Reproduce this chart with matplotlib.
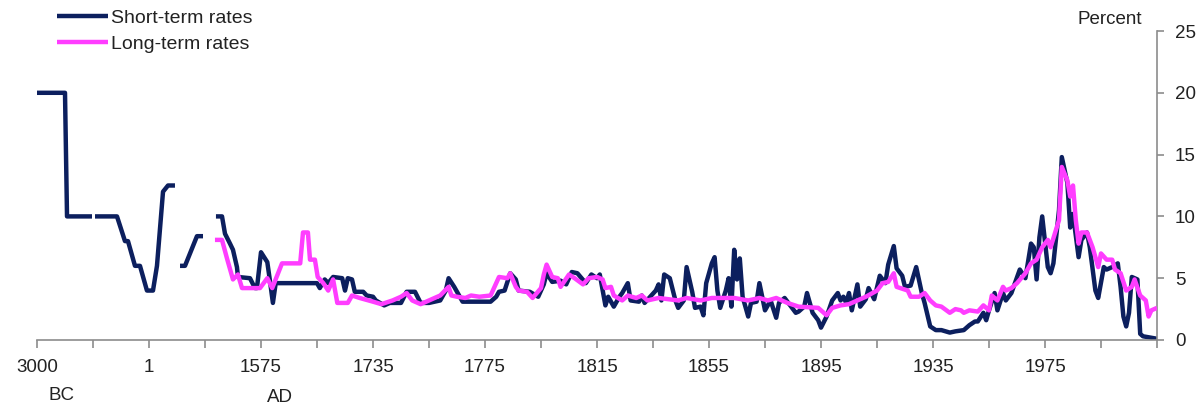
import numpy as np
import matplotlib
matplotlib.use("Agg")
import matplotlib.pyplot as plt

plt.rcParams['font.family'] = ['Liberation Sans', 'DejaVu Sans']

nan = np.nan

# Short-term rates (year, percent); NaN marks gaps in the record
short_years = [-3000, -2250, -2196, -1527, -1490, -1446, -857, -643, -562, -375, -241, -54,
               57, 113, 198, 268, 366, 400, 437, 507, 675, 760, 850,
               942, 1027, 1069, 1139, 1181, 1237, 1251, 1420, 1490, 1518,
               1575, 1584, 1588, 1592, 1596, 1655, 1659, 1666, 1671, 1678, 1691, 1695, 1699,
               1705, 1709, 1721, 1726,
               1735, 1736, 1739, 1741, 1745, 1747, 1750, 1752, 1755, 1759, 1761, 1762, 1764,
               1765, 1767, 1777, 1779, 1780, 1782, 1784, 1786, 1787, 1791, 1794, 1796, 1797,
               1799, 1802, 1804, 1806, 1808, 1811, 1813, 1815, 1816, 1818, 1819, 1821, 1823,
               1824, 1826, 1827, 1830, 1831, 1832, 1834, 1836, 1837, 1838, 1839, 1841, 1843,
               1844, 1846, 1847, 1849, 1850, 1852, 1853, 1854, 1856, 1857, 1858, 1859, 1861,
               1862, 1863, 1864, 1865, 1866, 1867, 1869, 1870, 1872, 1873, 1875, 1877, 1879,
               1880, 1882, 1884, 1886, 1887, 1889, 1890, 1892, 1894, 1895, 1897, 1899, 1901,
               1902, 1903, 1904, 1905, 1906, 1908, 1909, 1911, 1912, 1914, 1916, 1918, 1919,
               1921, 1922, 1924, 1925, 1927, 1929, 1931, 1932, 1934, 1936, 1938, 1941, 1943,
               1946, 1948, 1950, 1951, 1953, 1954, 1955, 1957, 1958, 1960, 1961, 1963, 1966,
               1968, 1970, 1971, 1972, 1973, 1974, 1976, 1977, 1978, 1980, 1981, 1983, 1984,
               1985, 1987, 1988, 1990, 1991, 1993, 1994, 1996, 1997, 1999, 2001, 2002, 2003,
               2004, 2005, 2006, 2008, 2009, 2010, 2015]
short_rates = [20, 20, 10, 10, nan, 10, 10, 8, 8, 6, 6, 4,
               4, 6, 12, 12.5, 12.5, nan, 6, 6, 8.4, 8.4, nan,
               10, 10, 8.6, 7.8, 7.3, 5.9, 5.1, 5.0, 4.2, 4.2,
               7.1, 6.3, 4.7, 3.0, 4.6, 4.6, 4.2, 4.9, 4.6, 5.1, 5.0, 4.0, 5.0,
               4.9, 3.9, 3.9, 3.6,
               3.5, 3.2, 2.8, 3.0, 3.0, 3.9, 3.9, 3.0, 3.0, 3.2, 4.0, 5.0, 4.3,
               3.9, 3.1, 3.1, 3.5, 3.9, 4.0, 5.4, 4.9, 4.0, 3.9, 3.5, 4.5, 5.4,
               4.7, 4.8, 4.5, 5.5, 5.4, 4.6, 5.3, 5.0, 5.3, 2.8, 3.5, 2.7, 3.5,
               3.8, 4.6, 3.2, 3.1, 3.6, 3.0, 3.5, 4.0, 4.5, 3.2, 5.3, 5.0, 3.2,
               2.6, 3.2, 5.9, 3.9, 2.6, 2.7, 2.0, 4.6, 6.2, 6.7, 4.0, 2.6, 4.0,
               5.0, 2.7, 7.3, 4.9, 6.6, 3.5, 1.9, 3.0, 3.1, 4.6, 2.4, 3.2, 1.8,
               3.0, 3.4, 2.8, 2.2, 2.3, 2.7, 3.8, 2.2, 1.6, 1.0, 1.9, 3.2, 3.8,
               3.2, 3.5, 3.0, 3.8, 2.4, 4.5, 2.7, 3.3, 4.2, 3.3, 5.2, 4.6, 6.1,
               7.6, 5.8, 5.2, 4.3, 4.4, 5.9, 3.8, 3.0, 1.1, 0.8, 0.8, 0.6, 0.7,
               0.8, 1.2, 1.5, 1.5, 2.2, 1.6, 2.4, 3.8, 2.4, 3.8, 3.2, 3.8, 5.7,
               5.0, 7.8, 7.5, 4.9, 8.3, 10.0, 5.9, 5.4, 6.2, 10.5, 14.8, 12.7, 9.1,
               10.2, 6.7, 8.1, 8.7, 7.5, 4.0, 3.4, 5.9, 5.7, 5.9, 6.2, 4.3, 1.9,
               1.1, 2.2, 5.1, 4.9, 0.5, 0.3, 0.1]

# Long-term rates (year, percent)
long_years = [928, 1027, 1097, 1181, 1251, 1308, 1561, 1584, 1591, 1605, 1631, 1635, 1642,
              1645, 1652, 1656, 1664, 1671, 1678, 1684, 1699, 1705, 1716,
              1735, 1738, 1742, 1745, 1747, 1749, 1752, 1755, 1759, 1762, 1763, 1765, 1768,
              1770, 1773, 1777, 1779, 1780, 1783, 1784, 1786, 1787, 1790, 1792, 1795, 1796,
              1797, 1799, 1801, 1802, 1805, 1807, 1810, 1812, 1815, 1817, 1818, 1820, 1821,
              1824, 1826, 1829, 1831, 1833, 1837, 1844, 1847, 1852, 1856, 1864, 1869, 1873,
              1876, 1879, 1883, 1887, 1894, 1897, 1899, 1902, 1905, 1911, 1915, 1917, 1919,
              1921, 1922, 1926, 1927, 1930, 1932, 1934, 1936, 1938, 1941, 1943, 1945, 1946,
              1948, 1951, 1953, 1955, 1956, 1958, 1960, 1961, 1963, 1965, 1968, 1970, 1972,
              1974, 1976, 1977, 1980, 1981, 1983, 1984, 1985, 1986, 1987, 1988, 1990, 1992,
              1994, 1995, 1997, 1999, 2000, 2002, 2004, 2006, 2007, 2009, 2011, 2012, 2013,
              2015]
long_rates = [8.1, 8.1, 6.6, 4.9, 5.3, 4.2, 4.2, 5.0, 4.2, 6.2, 6.2, 8.7, 8.7,
              6.5, 6.5, 5.1, 4.6, 4.0, 4.9, 3.0, 3.0, 3.6, 3.4,
              3.1, 2.9, 3.2, 3.5, 3.8, 3.2, 2.9, 3.2, 3.6, 4.3, 3.6, 3.5, 3.4,
              3.6, 3.5, 3.6, 4.6, 5.1, 5.0, 5.4, 4.3, 4.0, 3.9, 3.4, 4.2, 5.3,
              6.1, 5.1, 5.0, 4.3, 5.3, 5.0, 4.5, 5.0, 5.1, 4.9, 4.2, 4.3, 3.6,
              3.2, 3.6, 3.4, 3.6, 3.2, 3.4, 3.2, 3.4, 3.2, 3.4, 3.4, 3.2, 3.4,
              3.2, 3.4, 3.0, 2.7, 2.6, 2.0, 2.6, 2.8, 2.9, 3.5, 4.0, 4.6, 4.7,
              5.4, 4.3, 4.0, 3.5, 3.5, 3.8, 3.2, 2.8, 2.7, 2.2, 2.5, 2.4, 2.2,
              2.4, 2.3, 2.8, 2.4, 3.6, 3.2, 4.3, 4.0, 4.2, 4.6, 5.4, 6.2, 6.5,
              7.5, 8.1, 7.5, 9.7, 14.0, 12.9, 11.6, 12.5, 9.7, 7.8, 8.7, 8.7, 7.5,
              5.9, 7.0, 6.5, 6.5, 5.7, 5.4, 4.0, 4.3, 4.9, 3.6, 3.2, 1.9, 2.4,
              2.6]

# Axis tick years (the horizontal scale is piecewise: equal spacing between ticks)
tick_years = [-3000, -1500, 1, 788, 1575, 1655, 1735, 1755, 1775, 1795, 1815, 1835,
              1855, 1875, 1895, 1915, 1935, 1955, 1975, 1995, 2015]
tick_labels = ['3000', '', '1', '', '1575', '', '1735', '', '1775', '', '1815', '',
               '1855', '', '1895', '', '1935', '', '1975', '', '']
y_ticks = [0, 5, 10, 15, 20, 25]

navy = '#0c1f5e'
pink = '#ff3dff'
txt = '#222222'

scale_pos = np.arange(len(tick_years), dtype=float)
ty = np.array(tick_years, dtype=float)


def fwd(x):
    x = np.asarray(x, dtype=float)
    return np.where(x < ty[0], (x - ty[0]) / 1500.0,
                    np.where(x > ty[-1], scale_pos[-1] + (x - ty[-1]) / 20.0,
                             np.interp(x, ty, scale_pos)))


def inv(p):
    p = np.asarray(p, dtype=float)
    return np.where(p < 0, ty[0] + p * 1500.0,
                    np.where(p > scale_pos[-1], ty[-1] + (p - scale_pos[-1]) * 20.0,
                             np.interp(p, scale_pos, ty)))


fig = plt.figure(figsize=(12, 4.08), dpi=100)
ax = fig.add_axes([37 / 1200, 1 - 340 / 408, 1120 / 1200, 309 / 408])
ax.set_xscale('function', functions=(fwd, inv))

ax.plot(short_years, short_rates, color=navy, lw=3.2, solid_joinstyle='round',
        solid_capstyle='butt', label='Short-term rates', zorder=2)
ax.plot(long_years, long_rates, color=pink, lw=3.2, solid_joinstyle='round',
        solid_capstyle='butt', label='Long-term rates', zorder=3)

ax.set_xlim(tick_years[0], tick_years[-1])
ax.set_ylim(0, 25)

ax.set_xticks(tick_years)
ax.set_xticklabels(tick_labels)
ax.xaxis.set_minor_locator(matplotlib.ticker.NullLocator())
ax.set_yticks(y_ticks)
ax.yaxis.tick_right()
ax.yaxis.set_label_position('right')

for s in ['top', 'left']:
    ax.spines[s].set_visible(False)
for s in ['bottom', 'right']:
    ax.spines[s].set_color('#8c8c8c')
    ax.spines[s].set_linewidth(1.2)

ax.tick_params(axis='x', direction='out', length=6, width=1.2, color='#8c8c8c',
               labelsize=13.5, labelcolor=txt, pad=8)
ax.tick_params(axis='y', direction='out', length=5, width=1.2, color='#8c8c8c',
               labelsize=13.5, labelcolor=txt, pad=8, right=True, left=False)
ax.patch.set_visible(False)

fig.text(62 / 1200, 1 - 395 / 408, 'BC', ha='center', va='center', fontsize=13.5, color=txt)
fig.text(280 / 1200, 1 - 398 / 408, 'AD', ha='center', va='center', fontsize=13.5, color=txt)
fig.text(1142 / 1200, 1 - 19 / 408, 'Percent', ha='right', va='center', fontsize=13.5, color=txt)

fig.legend(loc='upper left', bbox_to_anchor=(57 / 1200, 1 - 9 / 408), frameon=False,
           fontsize=14, handlelength=2.6, handletextpad=0.2, borderpad=0,
           borderaxespad=0, labelspacing=0.45, labelcolor=txt)

fig.savefig('out.png', dpi=100)
